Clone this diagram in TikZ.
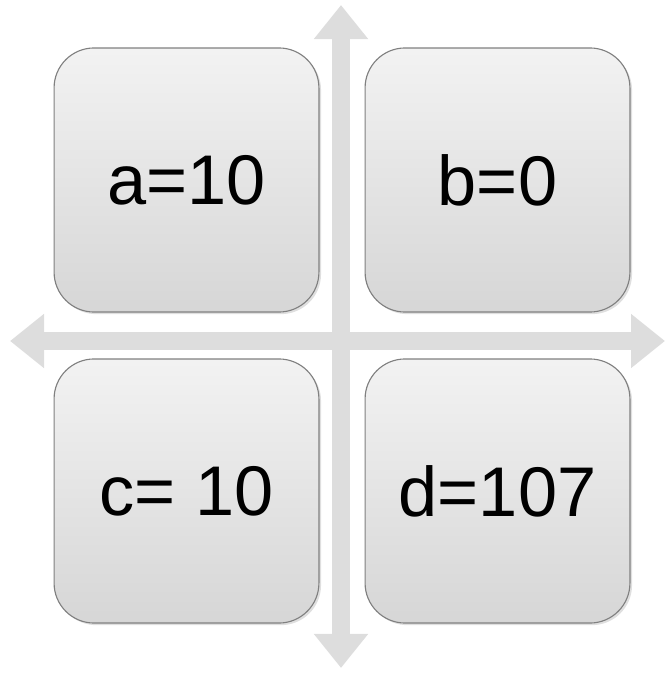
\documentclass[tikz,border=0pt]{standalone}
\usepackage{fontspec}
\setmainfont{Liberation Sans}
\usetikzlibrary{arrows.meta,shadows}

\begin{document}
\begin{tikzpicture}[x=0.025cm,y=-0.025cm,
  cell/.style={draw=black!50,line width=0.8pt,rounded corners=1cm,
    minimum width=6.62cm,minimum height=6.6cm,
    top color=gray!10,bottom color=gray!32,
    drop shadow={shadow xshift=1.5pt,shadow yshift=-1.5pt,opacity=0.25},
    font=\fontsize{50}{60}\selectfont},
  cross/.style={draw=gray!27,line width=0.43cm,
    {Triangle[width=1.3cm,length=0.85cm]}-{Triangle[width=1.3cm,length=0.85cm]}}]
\useasboundingbox (0,0) rectangle (667,674);
% the two axes
\coordinate (top) at (341,5);
\coordinate (bottom) at (341,668);
\coordinate (left) at (10,341);
\coordinate (right) at (665,341);
\draw[cross] (left) -- (right);
\draw[cross] (top) -- (bottom);
% the four cells
\node[cell] (a) at (186.5,180) {a=10};
\node[cell] (b) at (497.5,180) {b=0};
\node[cell] (c) at (186.5,491) {c= 10};
\node[cell] (d) at (497.5,491) {d=107};
\end{tikzpicture}
\end{document}
